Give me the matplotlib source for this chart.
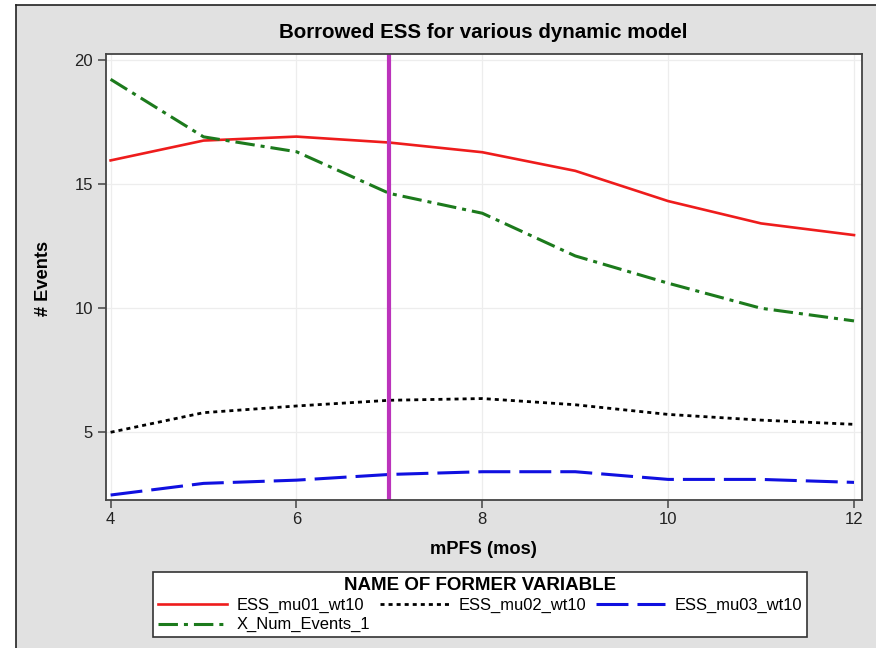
import matplotlib
matplotlib.use('Agg')
import matplotlib.pyplot as plt
from matplotlib import font_manager
from matplotlib.lines import Line2D
from matplotlib.patches import Rectangle

# datos
mpfs = [4, 5, 6, 7, 8, 9, 10, 11, 12]
ess_mu01 = [15.95, 16.75, 16.91, 16.67, 16.28, 15.53, 14.31, 13.41, 12.94]
ess_mu02 = [4.99, 5.78, 6.05, 6.28, 6.35, 6.10, 5.71, 5.48, 5.31]
ess_mu03 = [2.46, 2.93, 3.06, 3.29, 3.40, 3.40, 3.09, 3.09, 2.97]
x_num_events = [19.22, 16.90, 16.30, 14.62, 13.82, 12.10, 11.00, 9.99, 9.48]
corte = 7
legend_labels = ['ESS_mu01_wt10', 'ESS_mu02_wt10', 'ESS_mu03_wt10', 'X_Num_Events_1']

# fuente estilo Arial Narrow si existe
names = {f.name for f in font_manager.fontManager.ttflist}
if 'Liberation Sans Narrow' in names:
    fam, k = 'Liberation Sans Narrow', 1.0
else:
    fam, k = 'Liberation Sans', 0.82
plt.rcParams['font.family'] = fam
plt.rcParams['lines.scale_dashes'] = False

fig = plt.figure(figsize=(8.76, 6.48), dpi=100)
fig.patch.set_facecolor('white')
W, H = 876, 648

# fondo gris con borde arriba/izquierda
fig.patches.append(Rectangle((16 / W, 0), 1 - 16 / W, 1 - 5 / H, transform=fig.transFigure,
                             facecolor='#e1e1e1', edgecolor='none', zorder=-2))
fig.add_artist(Line2D([16 / W, 1], [1 - 5 / H, 1 - 5 / H], transform=fig.transFigure, color='#222222', lw=1.2))
fig.add_artist(Line2D([16 / W, 16 / W], [0, 1 - 5 / H], transform=fig.transFigure, color='#222222', lw=1.2))

ax = fig.add_axes([105.5 / W, 1 - 500 / H, (862 - 105.5) / W, (500 - 54) / H])
ax.set_facecolor('white')

red, = ax.plot(mpfs, ess_mu01, color='#ee1c1c', lw=1.9)
black, = ax.plot(mpfs, ess_mu02, color='black', lw=2.0, dashes=(2.9, 2.9))
blue, = ax.plot(mpfs, ess_mu03, color='#1010e0', lw=2.2, dashes=(23, 6.5))
green, = ax.plot(mpfs, x_num_events, color='#1c7a1c', lw=2.2, dashes=(14, 4.3, 2.9, 4.3))
ax.axvline(corte, color='#bb33bb', lw=3.0)

ax.set_xlim(3.945, 12.086)
ax.set_ylim(2.26, 20.24)
ax.set_xticks([4, 6, 8, 10, 12])
ax.set_yticks([5, 10, 15, 20])
ax.grid(True, color='#ededed', lw=0.9)
ax.set_axisbelow(True)
for s in ax.spines.values():
    s.set_color('#444444')
    s.set_linewidth(1.3)
ax.tick_params(direction='out', length=6, width=1.1, color='#444444',
               labelsize=14.6 * k, labelcolor='#222222')
ax.tick_params(axis='x', pad=3)
ax.tick_params(axis='y', pad=3)

fig.text(483 / W, 1 - 33 / H, 'Borrowed ESS for various dynamic model', ha='center', va='center',
         fontsize=18 * k, fontweight='bold')
fig.text(483 / W, 1 - 549 / H, 'mPFS (mos)', ha='center', va='center', fontsize=16 * k, fontweight='bold')
fig.text(43 / W, 1 - 278 / H, '# Events', ha='center', va='center', rotation=90,
         fontsize=16 * k, fontweight='bold')

leg = fig.legend([red, green, black, blue],
                 [legend_labels[0], legend_labels[3], legend_labels[1], legend_labels[2]],
                 loc='upper center', bbox_to_anchor=(480 / W, 1 - 572 / H), ncol=3,
                 title='NAME OF FORMER VARIABLE', frameon=True, fancybox=False,
                 framealpha=1, facecolor='white',
                 fontsize=14.5 * k, title_fontproperties={'weight': 'bold', 'size': 16.5 * k},
                 handlelength=4.2, handletextpad=0.55, columnspacing=0.6,
                 labelspacing=0.25, borderpad=0.3, borderaxespad=0)
leg.get_frame().set_edgecolor('#333333')
leg.get_frame().set_linewidth(1.2)

fig.savefig('out.png', dpi=100)
